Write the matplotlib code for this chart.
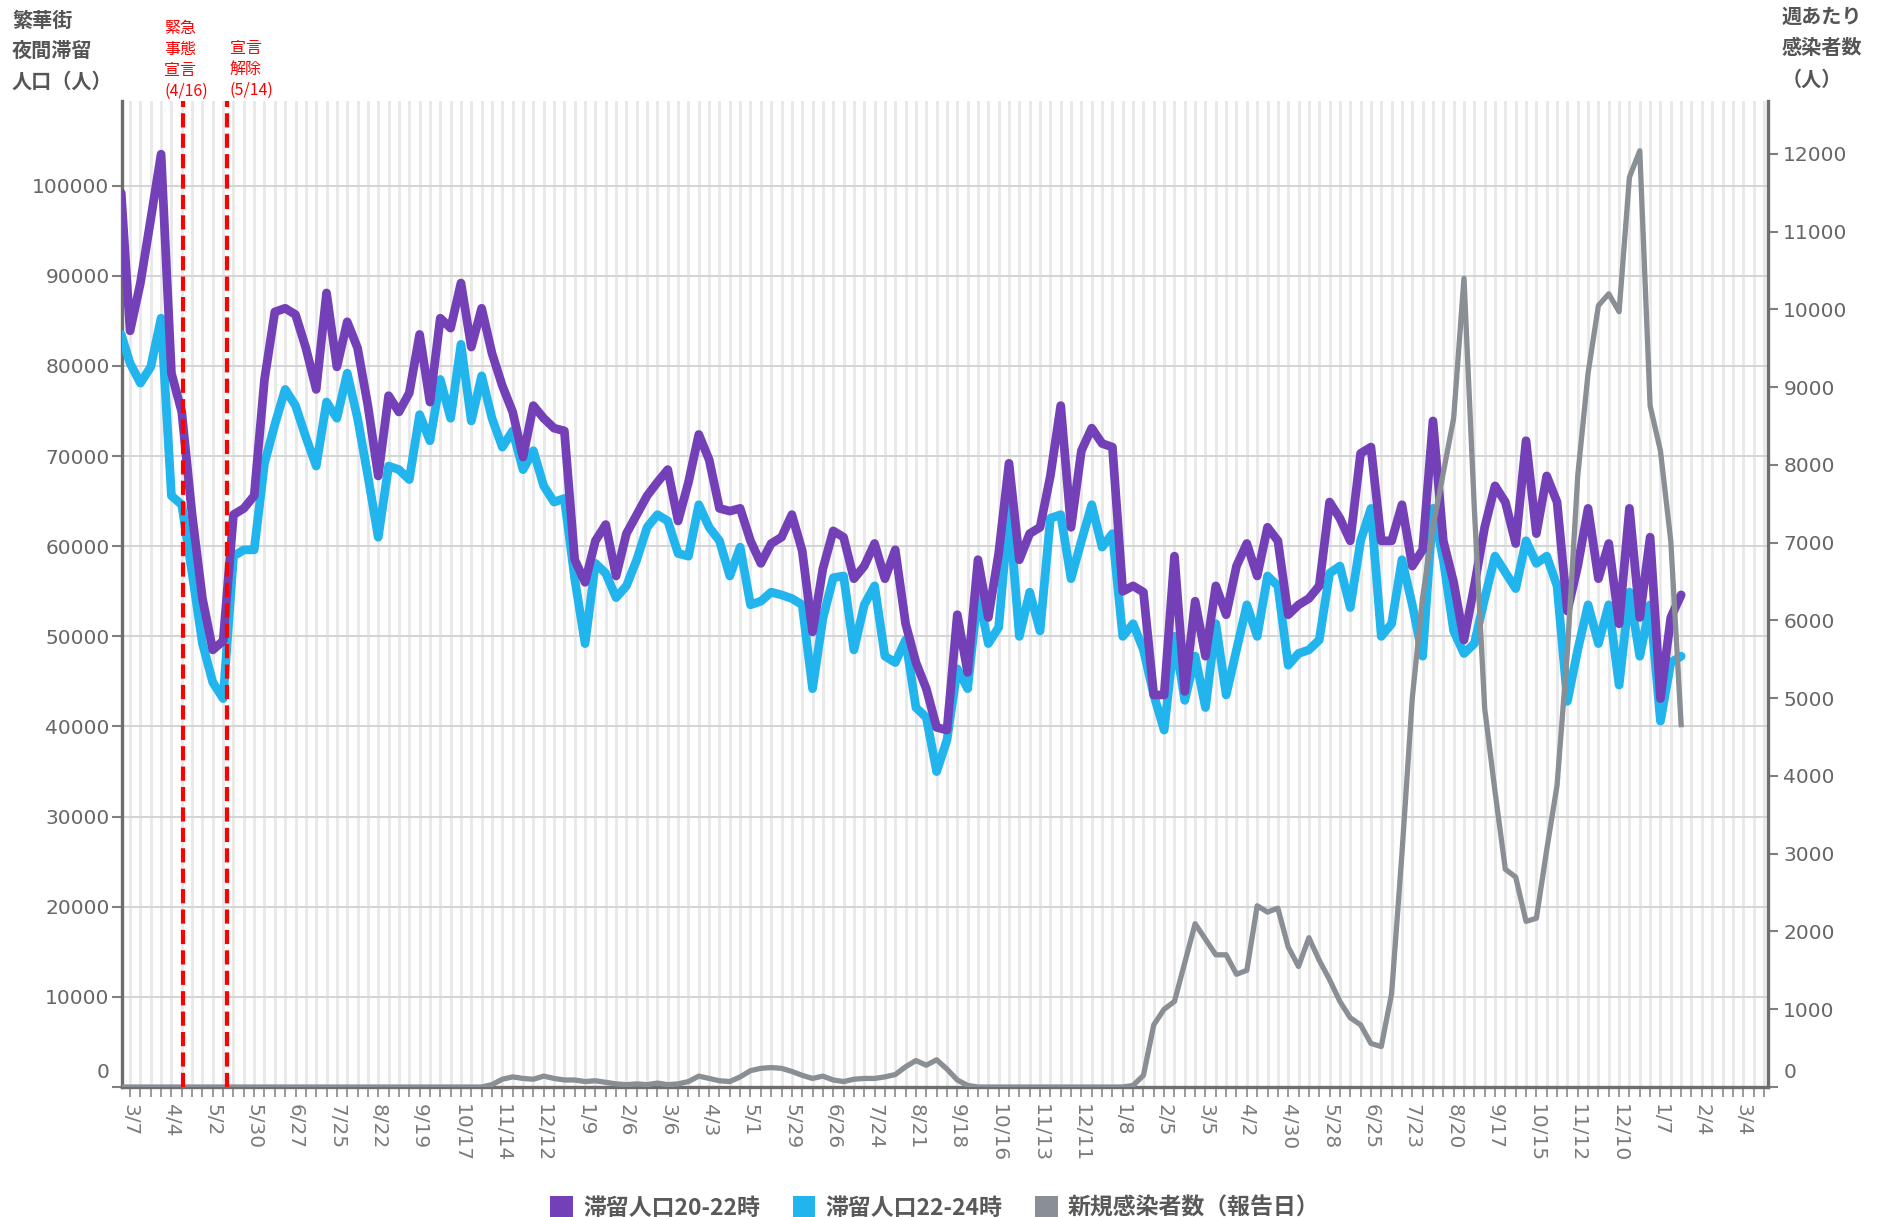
import numpy as np
import pandas as pd
import matplotlib
matplotlib.use("Agg")
import matplotlib.pyplot as plt
from matplotlib.patches import Patch
from matplotlib.transforms import ScaledTranslation

# ---------------- data ----------------
first_date = "2020-03-01"
week_start = "2020-03-07"
n_weeks = 151

# 滞留人口 20-22時 (人)
pop_20_22 = [
    99200, 83900, 89200, 96300, 103500, 79200, 74900, 63500, 54200, 48500,
    49500, 63500, 64200, 65600, 78500, 86000, 86400, 85700, 82000, 77400,
    88100, 79900, 84900, 82000, 75600, 67800, 76700, 74900, 77000, 83500,
    76000, 85300, 84200, 89200, 82100, 86400, 81400, 77800, 74900, 69900,
    75600, 74200, 73100, 72800, 58500, 56000, 60600, 62400, 56700, 61400,
    63500, 65600, 67100, 68500, 62800, 67100, 72400, 69600, 64200, 63900,
    64200, 60600, 58100, 60300, 61000, 63500, 59500, 50500, 57500, 61700,
    61000, 56400, 57800, 60300, 56400, 59600, 51400, 47100, 44200, 39900,
    39600, 52400, 46000, 58500, 52100, 59200, 69200, 58500, 61400, 62100,
    67800, 75600, 62100, 70600, 73100, 71400, 71000, 55000, 55600, 54900,
    43500, 43500, 58900, 43900, 53900, 47800, 55600, 52400, 57800, 60300,
    56700, 62100, 60600, 52400, 53500, 54200, 55600, 64900, 63100, 60600,
    70300, 71000, 60600, 60600, 64600, 57800, 59600, 73900, 60600, 56000,
    49600, 55600, 62100, 66700, 64900, 60300, 71700, 61400, 67800, 64900,
    52800, 57800, 64200, 56400, 60300, 51400, 64200, 52100, 61000, 43100,
    52100, 54600,
]

# 滞留人口 22-24時 (人)
pop_22_24 = [
    83500, 80300, 78100, 79900, 85300, 65600, 64600, 57000, 49200, 44900,
    43100, 58900, 59600, 59600, 69200, 73500, 77400, 75600, 72100, 68900,
    76000, 74200, 79200, 74200, 67800, 61000, 68900, 68500, 67400, 74600,
    71700, 78500, 74200, 82400, 73900, 78900, 74200, 71000, 72800, 68500,
    70600, 66700, 64900, 65300, 56400, 49200, 58100, 57000, 54300, 55600,
    58500, 62100, 63500, 62800, 59200, 58900, 64600, 62100, 60600, 56700,
    59900, 53500, 53900, 54900, 54600, 54200, 53500, 44200, 52000, 56500,
    56700, 48500, 53500, 55600, 47800, 47100, 49600, 42100, 41000, 35000,
    38500, 46400, 44200, 54900, 49200, 51000, 64200, 50000, 54900, 50600,
    63100, 63500, 56400, 60600, 64600, 59900, 61400, 50000, 51400, 48500,
    43500, 39600, 50000, 42900, 47800, 42100, 51400, 43500, 48500, 53500,
    50000, 56700, 55600, 46800, 48100, 48500, 49600, 57000, 57800, 53200,
    60600, 64200, 50000, 51400, 58500, 53500, 47800, 64200, 58500, 50600,
    48100, 49200, 54200, 58900, 57100, 55300, 60600, 58100, 58900, 55600,
    42800, 48500, 53500, 49200, 53500, 44600, 54900, 47800, 53500, 40600,
    47100, 47800,
]

# 新規感染者数 (報告日, 週あたり, 人)
new_cases = [
    0, 0, 0, 0, 0, 0, 0, 0, 0, 0,
    0, 0, 0, 0, 0, 0, 0, 0, 0, 0,
    0, 0, 0, 0, 0, 0, 0, 0, 0, 0,
    0, 0, 0, 0, 0, 0, 30, 100, 130, 110,
    100, 140, 110, 90, 90, 70, 80, 60, 40, 30,
    40, 30, 50, 30, 40, 70, 140, 110, 80, 70,
    130, 210, 240, 250, 240, 200, 150, 110, 140, 90,
    70, 100, 110, 110, 130, 160, 260, 340, 280, 350,
    230, 90, 20, 0, 0, 0, 0, 0, 0, 0,
    0, 0, 0, 0, 0, 0, 0, 0, 20, 150,
    800, 1000, 1100, 1600, 2100, 1900, 1700, 1700, 1450, 1500,
    2330, 2250, 2300, 1800, 1550, 1920, 1630, 1380, 1100, 890,
    800, 560, 520, 1200, 3000, 5000, 6300, 7200, 7900, 8600,
    10400, 7440, 4870, 3800, 2800, 2700, 2130, 2170, 3050, 3880,
    5600, 7860, 9180, 10050, 10200, 9970, 11700, 12040, 8760, 8180,
    7020, 4660,
]

tick_labels = ["3/7", "4/4", "5/2", "5/30", "6/27", "7/25", "8/22", "9/19",
               "10/17", "11/14", "12/12", "1/9", "2/6", "3/6", "4/3", "5/1",
               "5/29", "6/26", "7/24", "8/21", "9/18", "10/16", "11/13",
               "12/11", "1/8", "2/5", "3/5", "4/2", "4/30", "5/28", "6/25",
               "7/23", "8/20", "9/17", "10/15", "11/12", "12/10", "1/7",
               "2/4", "3/4"]

legend_labels = ["滞留人口20-22時", "滞留人口22-24時", "新規感染者数（報告日）"]
decl_text = "緊急\n事態\n宣言\n(4/16)"
lift_text = "宣言\n解除\n(5/14)"
event_weeks = [5.15, 9.4]          # red dashed markers (week units)

# ---------------- derived x values (weeks since 2020-03-07) ----------------
dates = pd.DatetimeIndex([pd.Timestamp(first_date)]).append(
    pd.date_range(week_start, periods=n_weeks, freq="7D"))
x = ((dates - pd.Timestamp(week_start)).days / 7.0).to_numpy()

PURPLE = "#7440b8"
CYAN = "#22b4ec"
GRAY = "#8a8e95"
TXT = "#666666"
CJK = ["Noto Sans CJK JP", "DejaVu Sans"]

plt.rcParams["font.family"] = ["DejaVu Sans", "Noto Sans CJK JP"]

W, H = 1879, 1217
fig = plt.figure(figsize=(W / 100, H / 100), dpi=100)
fig.patch.set_facecolor("white")
L, R, T, B = 122, 1768, 101, 1087
ax = fig.add_axes([L / W, 1 - B / H, (R - L) / W, (B - T) / H])
ax2 = ax.twinx()

ax.plot(x, pop_22_24, color=CYAN, lw=6.3, solid_joinstyle="round",
        solid_capstyle="round", zorder=3)
ax.plot(x, pop_20_22, color=PURPLE, lw=6.3, solid_joinstyle="round",
        solid_capstyle="round", zorder=4)
ax2.plot(x, new_cases, color=GRAY, lw=3.8, solid_joinstyle="round", zorder=3)

for ev in event_weeks:
    ax2.axvline(ev, color="#ff0000", lw=3, dashes=(3.4, 1.5), zorder=6)

ax.set_xlim(-0.78, 158.4)
ax.set_ylim(0, 109400)
ax2.set_ylim(0, 12680)

major_x = np.arange(0, 4 * len(tick_labels), 4)
ax.set_xticks(major_x)
ax.set_xticklabels(tick_labels)
ax.set_xticks(np.arange(0, 159, 1), minor=True)
ax.set_yticks(np.arange(0, 100001, 10000))
ax.set_yticklabels([str(v) for v in range(0, 100001, 10000)])
ax2.set_yticks(np.arange(0, 12001, 1000))
ax2.set_yticklabels([str(v) for v in range(0, 12001, 1000)])

ax.set_axisbelow(True)
ax.grid(axis="x", which="both", color="#e8e8e8", lw=2.0)
ax.grid(axis="y", which="major", color="#d4d4d4", lw=1.4)

for a in (ax, ax2):
    a.spines["top"].set_visible(False)
ax.spines["right"].set_visible(False)
ax2.spines["left"].set_visible(False)
ax2.spines["bottom"].set_visible(False)
for sp in (ax.spines["left"], ax.spines["bottom"], ax2.spines["right"]):
    sp.set_color("#6e6e6e")
    sp.set_linewidth(2.4)

ax.tick_params(axis="x", which="both", direction="out", length=7, width=1.4,
               color="#9a9a9a", labelcolor="#7a7a7a", labelsize=14.5,
               labelrotation=-90, pad=5)
ax.tick_params(axis="y", direction="out", length=7, width=1.5,
               color="#808080", labelcolor=TXT, labelsize=14.5, pad=2)
ax2.tick_params(axis="y", direction="out", length=7, width=1.5,
                color="#808080", labelcolor=TXT, labelsize=14.5, pad=4)
for lbl in ax.get_xticklabels():
    lbl.set_va("top")
    lbl.set_ha("center")

# lift the "0" labels like the original
lift = ScaledTranslation(0, 16 / 100, fig.dpi_scale_trans)
for a in (ax, ax2):
    t0 = a.yaxis.get_major_ticks()[0]
    for lab in (t0.label1, t0.label2):
        lab.set_transform(lab.get_transform() + lift)

# axis titles
fig.text(12 / W, 1 - 10 / H, "繁華街\n夜間滞留\n人口（人）", family=CJK,
         fontsize=14.5, fontweight="bold", color="#555555", ha="left",
         va="top", linespacing=1.55)
fig.text(1782 / W, 1 - 6 / H, "週あたり\n感染者数\n（人）", family=CJK,
         fontsize=14.5, fontweight="bold", color="#555555", ha="left",
         va="top", linespacing=1.6)

# red annotations
bt = ax2.get_xaxis_transform()
ax2.text(3.3, (B - 20) / (B - T), decl_text, transform=bt, family=CJK,
         fontsize=11.5, color="#ff0000", ha="left", va="top", linespacing=1.3,
         clip_on=False)
ax2.text(9.62, (B - 40) / (B - T), lift_text, transform=bt, family=CJK,
         fontsize=11.5, color="#ff0000", ha="left", va="top", linespacing=1.3,
         clip_on=False)

# legend
handles = [Patch(facecolor=c, edgecolor="none") for c in (PURPLE, CYAN, GRAY)]
leg = fig.legend(handles, legend_labels, loc="center", ncol=3,
                 bbox_to_anchor=(935 / W, 1 - 1208 / H), frameon=False,
                 prop={"family": CJK, "size": 16.5, "weight": "bold"},
                 handlelength=1.0, handleheight=1.0, handletextpad=0.45,
                 columnspacing=1.4, borderaxespad=0)
for t in leg.get_texts():
    t.set_color("#595959")

fig.savefig("out.png", dpi=100, facecolor="white")
